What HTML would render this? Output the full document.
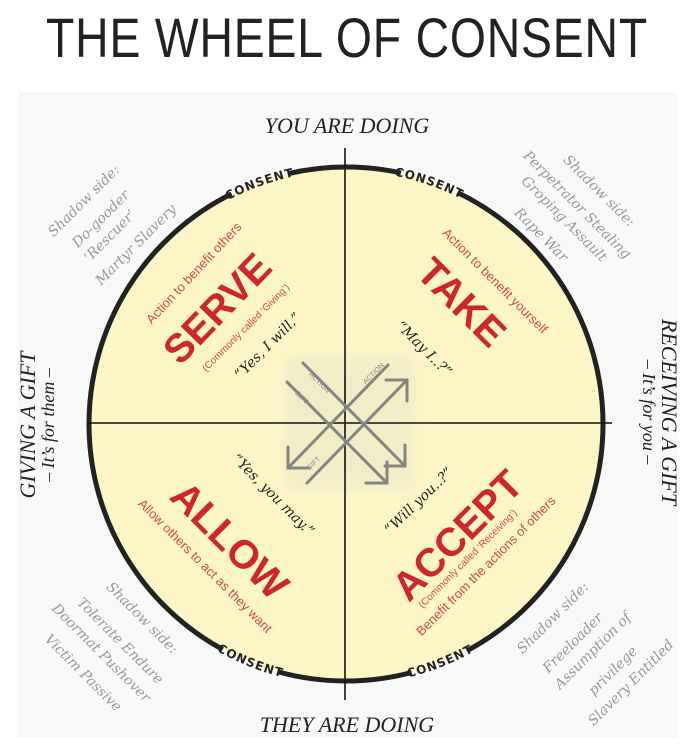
<!DOCTYPE html>
<html><head><meta charset="utf-8"><style>
html,body{margin:0;padding:0;background:#fff;}
svg{display:block}
</style></head><body>
<svg width="695" height="745" viewBox="0 0 695 745" xmlns="http://www.w3.org/2000/svg">
<defs>
<path id="topT" d="M 93 424 A 253 253 0 0 1 599 424"/>
<path id="botT" d="M 85 424 A 261 261 0 0 0 607 424"/>
<filter id="bl"><feGaussianBlur stdDeviation="6"/></filter>
</defs>
<rect x="0" y="0" width="695" height="745" fill="#fff"/>
<rect x="18" y="92" width="659" height="646" fill="#f8f8f6"/>
<text x="347" y="57" text-anchor="middle" font-family="Liberation Sans, sans-serif" font-size="56" fill="#222" textLength="602" lengthAdjust="spacingAndGlyphs" letter-spacing="1">THE WHEEL OF CONSENT</text>

<circle cx="346" cy="424" r="257" fill="#fcf5c6"/>
<rect x="285" y="355" width="130" height="135" fill="#e9e6c8" opacity="0.5" filter="url(#bl)"/>

<path d="M 89 424 A 257 257 0 0 1 603 424" fill="none" stroke="#222" stroke-width="5" stroke-dasharray="285 60 114 60 999"/>
<path d="M 89 424 A 257 257 0 0 0 603 424" fill="none" stroke="#222" stroke-width="5" stroke-dasharray="275 60 135 60 999"/>

<g font-family="DejaVu Sans, sans-serif" font-weight="bold" font-size="12" fill="#222" letter-spacing="1">
<text text-anchor="middle"><textPath href="#topT" startOffset="39%">CONSENT</textPath></text>
<text text-anchor="middle"><textPath href="#topT" startOffset="60.6%">CONSENT</textPath></text>
<text text-anchor="middle"><textPath href="#botT" startOffset="37.8%">CONSENT</textPath></text>
<text text-anchor="middle"><textPath href="#botT" startOffset="62%">CONSENT</textPath></text>
</g>

<line x1="345" y1="148" x2="345" y2="700" stroke="#111" stroke-width="1.6"/>
<line x1="88" y1="423" x2="612" y2="423" stroke="#111" stroke-width="1.6"/>

<g stroke="#858580" stroke-width="3" fill="none" stroke-linecap="round">
<line x1="303" y1="363" x2="405" y2="466"/>
<polyline points="405,445 405,466 385,466"/>
<line x1="287" y1="382" x2="387" y2="483"/>
<polyline points="387,462 387,483 366,483"/>
<line x1="388" y1="365" x2="288" y2="468"/>
<polyline points="288,447 288,468 309,468"/>
<line x1="307" y1="483" x2="407" y2="380"/>
<polyline points="386,380 407,380 407,401"/>
</g>
<g font-family="Liberation Sans, sans-serif" font-size="7" fill="#888">
<text transform="translate(318,384) rotate(45)" text-anchor="middle">ACTION</text>
<text transform="translate(300,399) rotate(45)" text-anchor="middle">GIFT</text>
<text transform="translate(375,375) rotate(-45)" text-anchor="middle">ACTION</text>
<text transform="translate(315,465) rotate(-45)" text-anchor="middle">GIFT</text>
</g>

<g font-family="Liberation Serif, serif" font-style="italic" fill="#222" text-anchor="middle">
<text x="347" y="133" font-size="22">YOU ARE DOING</text>
<text x="347" y="732" font-size="22">THEY ARE DOING</text>
<text transform="translate(35,425) rotate(-90)" font-size="22">GIVING A GIFT</text>
<text transform="translate(54,425) rotate(-90)" font-size="18">– It’s for them –</text>
<text transform="translate(662,412) rotate(90)" font-size="22">RECEIVING A GIFT</text>
<text transform="translate(643,412) rotate(90)" font-size="18">– It’s for you –</text>
</g>

<g font-family="Liberation Sans, sans-serif" font-weight="bold" fill="#cf2530" text-anchor="middle" font-size="40">
<text transform="translate(227,318) rotate(-46)">SERVE</text>
<text transform="translate(452,312) rotate(45)">TAKE</text>
<text transform="translate(220,550) rotate(45)">ALLOW</text>
<text transform="translate(467,545) rotate(-45)">ACCEPT</text>
</g>
<g font-family="Liberation Sans, sans-serif" fill="#d54a44" text-anchor="middle">
<text transform="translate(248,330) rotate(-45)" font-size="10">(Commonly called ‘Giving’)</text>
<text transform="translate(470,561) rotate(-45)" font-size="10">(Commonly called ‘Receiving’)</text>
<text transform="translate(197,276) rotate(-47)" font-size="13">Action to benefit others</text>
<text transform="translate(492,284) rotate(45)" font-size="13">Action to benefit yourself</text>
<text transform="translate(202,569) rotate(45)" font-size="13">Allow others to act as they want</text>
<text transform="translate(489,569) rotate(-45)" font-size="13">Benefit from the actions of others</text>
</g>
<g font-family="DejaVu Serif, serif" font-style="italic" fill="#222" text-anchor="middle" font-size="14">
<text transform="translate(271,349) rotate(-45)">“Yes, I will.”</text>
<text transform="translate(421,352) rotate(45)">“May I..?”</text>
<text transform="translate(270,498) rotate(45)">“Yes, you may.”</text>
<text transform="translate(422,504) rotate(-44)">“Will you..?”</text>
</g>

<g font-family="DejaVu Serif, serif" font-style="italic" fill="#9a9a9a" text-anchor="middle" font-size="14">
<text transform="translate(87,204) rotate(-45)">Shadow side:</text>
<text transform="translate(104,222) rotate(-45)">Do-gooder</text>
<text transform="translate(113,239) rotate(-45)">‘Rescuer’</text>
<text transform="translate(139,248) rotate(-45)">Martyr  Slavery</text>

<text transform="translate(596,194) rotate(45)">Shadow side:</text>
<text transform="translate(574,208) rotate(45)">Perpetrator  Stealing</text>
<text transform="translate(561,222) rotate(45)">Groping  Assault</text>
<text transform="translate(538,238) rotate(45)">Rape  War</text>

<text transform="translate(139,621) rotate(45)">Shadow side:</text>
<text transform="translate(117,644) rotate(45)">Tolerate  Endure</text>
<text transform="translate(98,656) rotate(45)">Doormat  Pushover</text>
<text transform="translate(80,676) rotate(45)">Victim  Passive</text>

<text transform="translate(556,621) rotate(-45)">Shadow side:</text>
<text transform="translate(576,646) rotate(-45)">Freeloader</text>
<text transform="translate(596,654) rotate(-45)">Assumption of</text>
<text transform="translate(616,674) rotate(-45)">privilege</text>
<text transform="translate(634,686) rotate(-45)">Slavery  Entitled</text>
</g>
</svg>
</body></html>
